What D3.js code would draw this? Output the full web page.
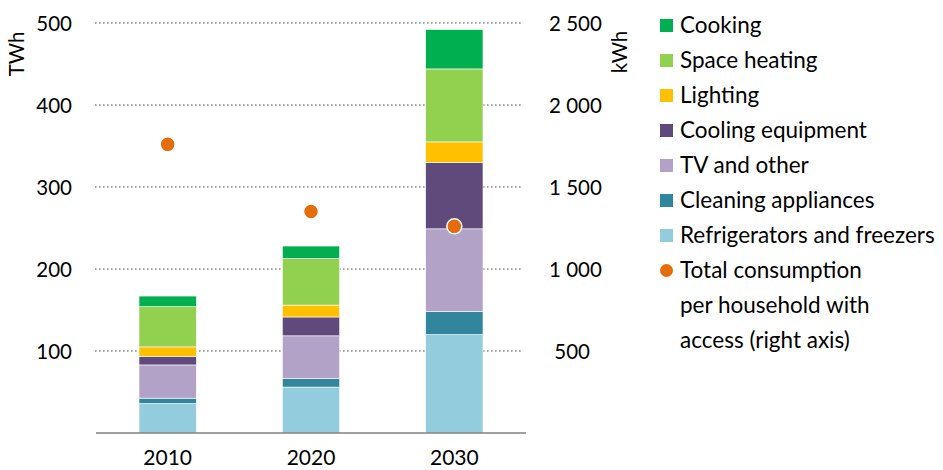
<!DOCTYPE html>
<html>
<head>
<meta charset="utf-8">
<script src="https://cdn.jsdelivr.net/npm/d3@7"></script>
<style>
  html, body { margin: 0; padding: 0; background: #fff; }
  svg { display: block; font-family: Lato, "Open Sans", sans-serif; }
</style>
</head>
<body>
<svg id="chart" width="943" height="470"></svg>
<script>
// ---- Data ----
const years = ["2010", "2020", "2030"];
const refrigerators = [36, 56, 120];
const cleaning = [6.5, 10.5, 28];
const tvOther = [40.5, 52, 101];
const cooling = [10.5, 23, 81];
const lighting = [11.5, 14.5, 25];
const spaceHeating = [49, 57, 89];
const cooking = [13, 15, 48];
const perHousehold = [1760, 1350, 1260]; // kWh, right axis

const seriesNames = ["Refrigerators and freezers", "Cleaning appliances", "TV and other",
  "Cooling equipment", "Lighting", "Space heating", "Cooking"];
const seriesValues = [refrigerators, cleaning, tvOther, cooling, lighting, spaceHeating, cooking];
const seriesColors = ["#93CDDD", "#31859C", "#B3A2C7", "#604A7B", "#FFC000", "#92D050", "#00B050"];
const dotColor = "#E46C0A";
const leftTicks = [100, 200, 300, 400, 500];
const rightTicks = [500, 1000, 1500, 2000, 2500];

// ---- Layout ----
const svg = d3.select("#chart");
const x0 = 96, x1 = 526, yTop = 23, yBase = 433;
const tickFont = 20.5, legendFont = 22.5;

const x = d3.scaleBand().domain(years).range([x0, x1]).paddingInner(0.6).paddingOuter(0.3);
const yL = d3.scaleLinear().domain([0, 500]).range([yBase, yTop]);
const yR = d3.scaleLinear().domain([0, 2500]).range([yBase, yTop]);

// table for stacking
const table = years.map((yr, i) => {
  const o = { year: yr };
  seriesNames.forEach((n, k) => o[n] = seriesValues[k][i]);
  return o;
});
const stacked = d3.stack().keys(seriesNames)(table);

// gridlines
svg.append("g").selectAll("line").data(leftTicks).join("line")
  .attr("x1", x0 - 1).attr("x2", x1 - 3)
  .attr("y1", d => yL(d)).attr("y2", d => yL(d))
  .attr("stroke", "#8c8c8c").attr("stroke-width", 1.6)
  .attr("stroke-dasharray", "1.6,2.4");

// bars
svg.append("g").selectAll("g").data(stacked).join("g")
  .attr("fill", (d, i) => seriesColors[i])
  .selectAll("rect").data(d => d).join("rect")
  .attr("x", d => x(d.data.year))
  .attr("width", x.bandwidth())
  .attr("y", d => yL(d[1]))
  .attr("height", d => yL(d[0]) - yL(d[1]))
  .attr("stroke", "#ffffff").attr("stroke-width", 0.6);

// baseline
svg.append("line").attr("x1", x0).attr("x2", x1).attr("y1", yBase).attr("y2", yBase)
  .attr("stroke", "#7f7f7f").attr("stroke-width", 1.5);

// left axis
const leftAxis = d3.axisLeft(yL).tickValues(leftTicks).tickSize(0).tickPadding(0);
const gL = svg.append("g").attr("transform", "translate(72,0)").call(leftAxis);
gL.select(".domain").remove();
gL.selectAll("text").attr("font-size", tickFont).attr("font-family", "Lato, sans-serif")
  .attr("fill", "#000").attr("dy", "0.35em");

// right axis
const fmt = v => (v < 1000 ? "\u00a0" : "") + d3.format(",")(v).replace(/,/g, "\u00a0");
const rightAxis = d3.axisRight(yR).tickValues(rightTicks).tickSize(0).tickPadding(0).tickFormat(fmt);
const gR = svg.append("g").attr("transform", "translate(549,0)").call(rightAxis);
gR.select(".domain").remove();
gR.selectAll("text").attr("font-size", tickFont).attr("font-family", "Lato, sans-serif")
  .attr("fill", "#000").attr("dy", "0.35em");

// x axis labels
const xAxis = d3.axisBottom(x).tickSize(0).tickPadding(0);
const gX = svg.append("g").attr("transform", `translate(0,${yBase})`).call(xAxis);
gX.select(".domain").remove();
gX.selectAll("text").attr("font-size", tickFont + 0.5).attr("font-family", "Lato, sans-serif")
  .attr("fill", "#000").attr("y", 25).attr("dy", "0.35em");

// axis titles
svg.append("text").attr("transform", "translate(17,54) rotate(-90)")
  .attr("text-anchor", "middle").attr("dy", "0.35em").attr("font-size", tickFont).text("TWh");
svg.append("text").attr("transform", "translate(620,52) rotate(-90)")
  .attr("text-anchor", "middle").attr("dy", "0.35em").attr("font-size", tickFont).text("kWh");

// dots (right axis)
svg.append("g").selectAll("circle").data(years).join("circle")
  .attr("cx", d => x(d) + x.bandwidth() / 2)
  .attr("cy", (d, i) => yR(perHousehold[i]))
  .attr("r", 7.5)
  .attr("fill", dotColor)
  .attr("stroke", "#ffffff").attr("stroke-width", 1.5);

// legend
const legendItems = seriesNames.map((n, k) => ({ name: n, color: seriesColors[k] })).reverse();
const lg = svg.append("g");
const rowStep = 35, row0 = 25.5;
legendItems.forEach((it, i) => {
  const cy = row0 + i * rowStep;
  lg.append("rect").attr("x", 660).attr("y", cy - 6.5).attr("width", 13).attr("height", 13).attr("fill", it.color);
  lg.append("text").attr("x", 680).attr("y", cy).attr("dy", "0.35em").attr("font-size", legendFont).text(it.name);
});
const dotRow = row0 + legendItems.length * rowStep;
lg.append("circle").attr("cx", 666.5).attr("cy", dotRow).attr("r", 6.5).attr("fill", dotColor);
["Total consumption", "per household with", "access (right axis)"].forEach((t, j) => {
  lg.append("text").attr("x", 680).attr("y", dotRow + j * rowStep).attr("dy", "0.35em")
    .attr("font-size", legendFont).text(t);
});
</script>
</body>
</html>
